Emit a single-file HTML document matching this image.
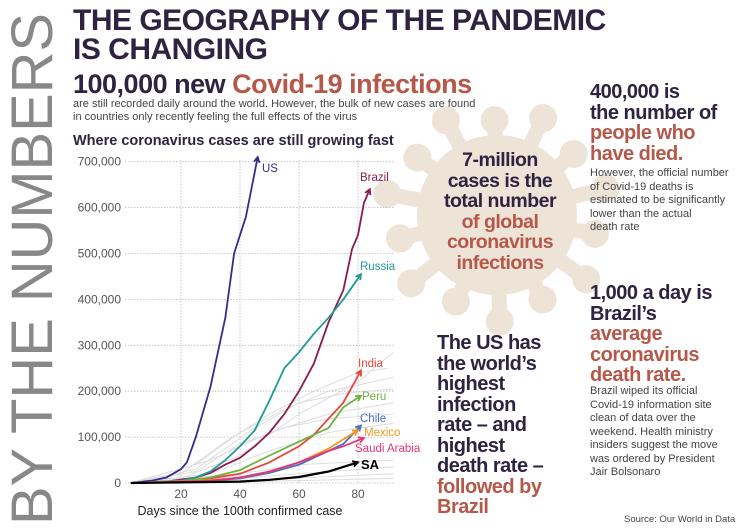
<!DOCTYPE html>
<html><head><meta charset="utf-8"><style>
body{margin:0;width:750px;height:530px;background:#fff;overflow:hidden;position:relative;font-family:"Liberation Sans",sans-serif}
.a{position:absolute}
.dk{color:#2e2340}.rd{color:#b5584a}
.big{font-weight:bold;letter-spacing:-0.5px}
</style></head><body>
<svg class="a" style="left:0;top:0" width="750" height="530">
<g fill="#ede3d6" id="virus"></g>
<text transform="translate(52,525) rotate(-90)" font-family="Liberation Sans" font-size="58" fill="#888" textLength="512" lengthAdjust="spacingAndGlyphs">BY THE NUMBERS</text>
<g id="chart"></g>
</svg>
<div class="a dk big" style="left:73px;top:6px;font-size:30px;line-height:29px;font-weight:900">THE GEOGRAPHY OF THE PANDEMIC<br>IS CHANGING</div>
<div class="a big" style="left:73px;top:69px;font-size:27px;line-height:30px"><span class="dk">100,000 new </span><span class="rd">Covid-19 infections</span></div>
<div class="a" style="left:73px;top:98px;font-size:11px;line-height:13px;color:#444">are still recorded daily around the world. However, the bulk of new cases are found<br>in countries only recently feeling the full effects of the virus</div>
<div class="a dk" style="left:73px;top:133px;font-size:14.5px;font-weight:bold">Where coronavirus cases are still growing fast</div>
<div class="a big" style="left:420px;top:150px;width:160px;text-align:center;font-size:19.5px;line-height:20.5px"><span class="dk">7-million<br>cases is the<br>total number<br></span><span class="rd">of global<br>coronavirus<br>infections</span></div>
<div class="a big" style="left:590px;top:82px;font-size:20px;line-height:20.5px"><span class="dk">400,000 is<br>the number of<br></span><span class="rd">people who<br>have died.</span></div>
<div class="a" style="left:590px;top:167px;font-size:11px;line-height:13.5px;color:#444">However, the official number<br>of Covid-19 deaths is<br>estimated to be significantly<br>lower than the actual<br>death rate</div>
<div class="a big" style="left:590px;top:283px;font-size:20px;line-height:20.5px"><span class="dk">1,000 a day is<br>Brazil’s<br></span><span class="rd">average<br>coronavirus<br>death rate.</span></div>
<div class="a" style="left:590px;top:385px;font-size:11px;line-height:13.5px;color:#444">Brazil wiped its official<br>Covid-19 information site<br>clean of data over the<br>weekend. Health ministry<br>insiders suggest the move<br>was ordered by President<br>Jair Bolsonaro</div>
<div class="a big" style="left:437px;top:333px;font-size:20px;line-height:20.5px"><span class="dk">The US has<br>the world’s<br>highest<br>infection<br>rate – and<br>highest<br>death rate –<br></span><span class="rd">followed by<br>Brazil</span></div>
<div class="a" style="left:624px;top:514px;font-size:9.5px;color:#444">Source: Our World in Data</div>
<script>
const NS="http://www.w3.org/2000/svg";
function el(p,t,a,txt){const e=document.createElementNS(NS,t);for(const k in a)e.setAttribute(k,a[k]);if(txt!==undefined)e.textContent=txt;p.appendChild(e);return e;}
const v=document.getElementById('virus');
const cx=497,cy=215;
el(v,'circle',{cx,cy,r:80});
for(let i=0;i<14;i++){const an=i/14*2*Math.PI+0.2;const r1=100+(i%2)*12;
 const x=cx+Math.cos(an)*r1,y=cy+Math.sin(an)*r1*0.95;
 el(v,'line',{x1:cx,y1:cy,x2:x,y2:y,stroke:'#ede3d6','stroke-width':15});
 el(v,'circle',{cx:x,cy:y,r:14});}
const c=document.getElementById('chart');
const X=d=>181+(d-20)*2.95, Y=k=>483-k*0.459;
for(let i=0;i<=7;i++){const y=Y(i*100);
 el(c,'line',{x1:125,x2:395,y1:y,y2:y,stroke:'#bbb','stroke-dasharray':'1.5,1.5','stroke-width':0.8});
 el(c,'text',{x:121,y:y+4,'text-anchor':'end','font-size':12,fill:'#555','font-family':'Liberation Sans'},i==0?'0':(i*100)+',000');}
[20,40,60,80].forEach(d=>{el(c,'line',{x1:X(d),x2:X(d),y1:160,y2:483,stroke:'#bbb','stroke-dasharray':'1.5,1.5','stroke-width':0.8});
 el(c,'text',{x:X(d),y:498,'text-anchor':'middle','font-size':12,fill:'#555','font-family':'Liberation Sans'},d);});
el(c,'text',{x:240,y:515,'text-anchor':'middle','font-size':12.5,fill:'#222','font-family':'Liberation Sans'},'Days since the 100th confirmed case');
const P=a=>a.map((p,i)=>(i?'L':'M')+X(p[0]).toFixed(1)+','+Y(p[1]).toFixed(1)).join('');
const greys=[[[3,0],[20,20],[35,90],[50,150],[65,200],[80,240],[90,250]],[[3,0],[25,40],[40,110],[55,160],[70,200],[92,230]],[[3,0],[20,10],[40,60],[60,150],[80,220],[92,285]],[[3,0],[25,30],[45,120],[60,175],[75,195],[92,205]],[[3,0],[30,50],[50,110],[70,150],[92,175]],[[3,0],[30,20],[50,70],[70,110],[92,130]],[[3,0],[40,20],[60,40],[92,50]],[[3,0],[40,10],[60,20],[92,35]],[[3,0],[50,8],[92,20]],[[3,0],[50,4],[92,10]],[[3,0],[25,25],[40,85],[55,120],[70,140],[92,150]]];
greys.forEach(g=>el(c,'path',{d:P(g),fill:'none',stroke:'#ddd','stroke-width':1}));
const S=[
['#3a2a8c',[[3,0],[10,5],[15,12],[20,30],[22,45],[25,100],[30,210],[35,360],[38,500],[42,580],[46,710]],'US',262,172],
['#8c1c4f',[[3,0],[15,3],[25,12],[30,22],[35,40],[40,55],[45,80],[50,110],[55,150],[60,200],[65,260],[70,350],[75,420],[78,510],[80,540],[82,610],[84,640]],'Brazil',360,181],
['#1f9a96',[[3,0],[20,5],[25,12],[30,25],[35,50],[40,80],[45,115],[50,180],[55,250],[60,285],[65,325],[70,360],[75,400],[81,455]],'Russia',360,270],
['#e8453c',[[3,0],[20,3],[30,10],[40,20],[50,45],[60,80],[65,105],[70,140],[75,175],[81,245]],'India',358,367],
['#6cb33f',[[3,0],[20,4],[30,12],[40,28],[50,60],[60,90],[70,120],[75,165],[81,190]],'Peru',362,400],
['#4a6fc9',[[3,0],[30,5],[40,10],[50,22],[60,40],[65,55],[70,70],[75,85],[81,125]],'Chile',360,422],
['#f29a1f',[[3,0],[30,6],[40,12],[50,25],[60,45],[70,75],[80,115]],'Mexico',364,436],
['#e8357a',[[3,0],[30,5],[40,12],[50,25],[60,45],[70,70],[75,80],[82,98]],'Saudi Arabia',355,452],
['#000',[[3,0],[40,3],[50,7],[60,13],[70,25],[80,45]],'SA',361,469]];
S.forEach(s=>{const [col,pts,lab,lx,ly]=s;
 el(c,'path',{d:P(pts),fill:'none',stroke:col,'stroke-width':lab=='SA'?2.2:1.8});
 const a=pts[pts.length-1],b=pts[pts.length-2];const x2=X(a[0]),y2=Y(a[1]),x1=X(b[0]),y1=Y(b[1]);
 const an=Math.atan2(y2-y1,x2-x1);
 el(c,'path',{d:`M${x2-6*Math.cos(an-0.5)},${y2-6*Math.sin(an-0.5)}L${x2},${y2}L${x2-6*Math.cos(an+0.5)},${y2-6*Math.sin(an+0.5)}`,fill:'none',stroke:col,'stroke-width':1.8});
 el(c,'text',{x:lx,y:ly,'font-size':lab=='SA'?13:11.5,'font-weight':lab=='SA'?'bold':'normal',fill:col,'font-family':'Liberation Sans'},lab);});
</script>
</body></html>
